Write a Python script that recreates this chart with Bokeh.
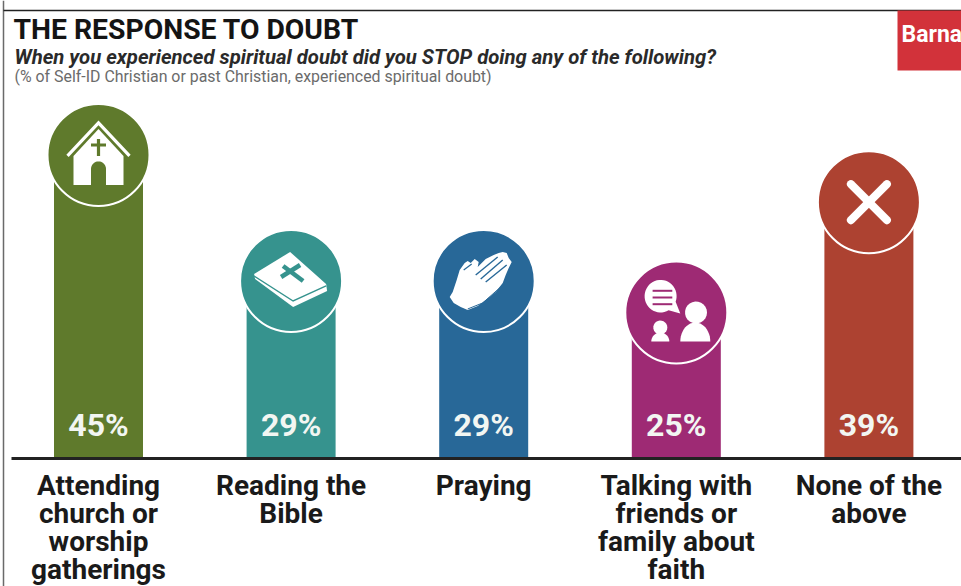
import numpy as np
from bokeh.core.properties import value
from bokeh.embed import file_html
from bokeh.models import ColumnDataSource, Range1d
from bokeh.plotting import figure
from bokeh.resources import INLINE

# Survey results
categories = [["Attending", "church or", "worship", "gatherings"], ["Reading the", "Bible"], ["Praying"],
              ["Talking with", "friends or", "family about", "faith"], ["None of the", "above"]]
percents = [45, 29, 29, 25, 39]
colors = ["#5f7a2c", "#36938e", "#286898", "#9e2a74", "#ad4231"]
title = "THE RESPONSE TO DOUBT"
subtitle = "When you experienced spiritual doubt did you STOP doing any of the following?"
note = "(% of Self-ID Christian or past Christian, experienced spiritual doubt)"
brand = "Barna"

W, H = 961, 586
BASE_PX = 458          # pixel row of the zero line
PX_X = 192.6           # pixels between category centres
PX_Y = 7.88            # pixels per percentage point
FIRST_X = 98.0         # pixel column of the first category
R = 51                 # badge radius, including its white ring


def dx_px(px):
    return (px - FIRST_X) / PX_X


def dy_px(py):
    return (BASE_PX - py) / PX_Y


p = figure(width=W, height=H, output_backend="svg", toolbar_location=None,
           x_range=Range1d(dx_px(0), dx_px(W)), y_range=Range1d(dy_px(H), dy_px(0)),
           min_border=0, outline_line_color=None, background_fill_color="white",
           border_fill_color="white")
p.axis.visible = False
p.grid.visible = False

xs = list(range(len(percents)))
centers = [v - R / PX_Y for v in percents]
src = ColumnDataSource(dict(x=xs, top=percents, bottom=[0] * len(xs), c=colors, cy=centers,
                            label=[f"{v}%" for v in percents]))

# One row per printed line of each category label
line_x, line_text, line_off = [], [], []
for i, lines in enumerate(categories):
    for j, line in enumerate(lines):
        line_x.append(xs[i])
        line_text.append(line)
        line_off.append(27 + 28 * j)
cat_src = ColumnDataSource(dict(x=line_x, y=[0] * len(line_x), t=line_text, off=line_off))

# Page frame lines
p.segment([dx_px(3)], [dy_px(0)], [dx_px(3)], [dy_px(H)], line_color="#6a6a6a", line_width=1.5)
p.segment([dx_px(3)], [dy_px(10)], [dx_px(W)], [dy_px(10)], line_color="#222222", line_width=1.5)

# Bars with a rounded head that tucks inside the badge
p.vbar(x="x", bottom="bottom", top="top", width=89 / PX_X, fill_color="c", line_color=None,
       border_radius=(44, 44, 0, 0), source=src)
p.scatter(x="x", y="cy", size=2 * R, marker="circle", fill_color="c", line_color="white",
          line_width=2, source=src)

# Zero line
p.segment([dx_px(11)], [0], [dx_px(W)], [0], line_color="#222222", line_width=3)


def arc(cx, cy, rx, ry, a0, a1, n=24):
    t = np.radians(np.linspace(a0, a1, n))
    return list(zip(cx + rx * np.cos(t), cy + ry * np.sin(t)))


def fill(i, pts, color="white"):
    pts = np.array(pts, dtype=float)
    p.patch(xs[i] + pts[:, 0] / PX_X, centers[i] - pts[:, 1] / PX_Y,
            fill_color=color, line_color=None)


def stroke(i, pts, color="white", width=2.0, cap="butt", join="miter"):
    pts = np.array(pts, dtype=float)
    p.line(xs[i] + pts[:, 0] / PX_X, centers[i] - pts[:, 1] / PX_Y, line_color=color,
           line_width=width, line_cap=cap, line_join=join)


# Church icon
c = colors[0]
stroke(0, [(-31, 1), (0, -32), (31, 1)], width=3.2)
fill(0, [(0, -26), (25, 1), (25, 30), (-25, 30), (-25, 1)])
fill(0, [(-7.5, 30), (-7.5, 14)] + arc(0, 14, 7.5, 7.5, 180, 360) + [(7.5, 30)], c)
stroke(0, [(0, -16), (0, 1)], c, 3.2)
stroke(0, [(-7.5, -10), (7.5, -10)], c, 3)

# Bible icon
c = colors[1]
fill(1, [(-37, -7), (-1, -29), (35, 3), (36, 10), (2, 26), (-36, -2)])
stroke(1, [(-37, -5), (2, 20), (35, 5)], c, 1.4)
stroke(1, [(-8, -15), (12, 0)], c, 4.5)
stroke(1, [(-10, -4), (9, -16)], c, 4.5)

# Praying hands icon
c = colors[2]
fill(2, [(-34, 16), (-31, 11), (-27, -1), (-24, -11), (-19, -18), (-16, -20), (-13, -18),
         (-9, -22), (-5, -19), (-6, -14), (2, -22), (10, -26), (15, -28), (19, -29), (23, -28),
         (25, -23), (28, -19), (25, -13), (22, -6), (19, 2), (12, 11), (2, 19), (-6, 25),
         (-16, 29), (-23, 26), (-30, 22)])
stroke(2, [(-8, -6), (14, -24)], c, 1.4)
stroke(2, [(-3, -2), (19, -21)], c, 1.4)
stroke(2, [(2, 1), (23, -16)], c, 1.4)
stroke(2, [(-20, -11), (-12, -17)], c, 1.2)
stroke(2, [(-16, 28), (-1, 22), (17, 6)], c, 1.0)

# Conversation icon
c = colors[3]
fill(3, arc(-15.7, -16.3, 16, 16.3, 60, 360 + 20, 40) + [(4, 1)])
for dy in (-21.7, -15, -8.3):
    stroke(3, [(-23.7, dy), (-4, dy)], c, 2)
fill(3, arc(19.7, 0, 11, 11, 0, 360))
fill(3, arc(19, 29, 15, 19, 180, 360))
fill(3, arc(-16, 15, 7, 7, 0, 360))
fill(3, arc(-16, 29, 9, 9, 180, 360))

# Cross icon
stroke(4, [(-18, -18), (18, 18)], width=8, cap="round")
stroke(4, [(-18, 18), (18, -18)], width=8, cap="round")

# Value labels inside the bars
p.text(x="x", y="bottom", text="label", source=src, text_font=value("Roboto"),
       text_font_style="bold", text_font_size="32px", text_color="#f2f6f2", text_align="center",
       text_baseline="middle", y_offset=-34)

# Category labels beneath the zero line
p.text(x="x", y="y", text="t", source=cat_src, text_font=value("Roboto"),
       text_font_style="bold", text_font_size="28px", text_color="#1a1a1a", text_align="center",
       text_baseline="middle", y_offset="off")

# Brand block
p.quad(left=[dx_px(897)], right=[dx_px(W)], top=[dy_px(10)], bottom=[dy_px(70)],
       fill_color="#d2323a", line_color=None)
p.text(x=[dx_px(901)], y=[dy_px(34)], text=[brand], text_font=value("Roboto"),
       text_font_style="bold", text_font_size="23px", text_color="white", text_baseline="middle")

# Heading block
p.text(x=[dx_px(13)], y=[dy_px(29)], text=[title], text_font=value("Roboto"),
       text_font_style="bold", text_font_size="28.3px", text_color="#141414", text_baseline="middle")
p.text(x=[dx_px(14)], y=[dy_px(56)], text=[subtitle], text_font=value("Roboto"),
       text_font_style="bold italic", text_font_size="20.3px", text_color="#2a2a2a",
       text_baseline="middle")
p.text(x=[dx_px(14)], y=[dy_px(76)], text=[note], text_font=value("Roboto"),
       text_font_size="15.9px", text_color="#6b6b6b", text_baseline="middle")

open("out.html", "w").write(file_html(p, INLINE))
